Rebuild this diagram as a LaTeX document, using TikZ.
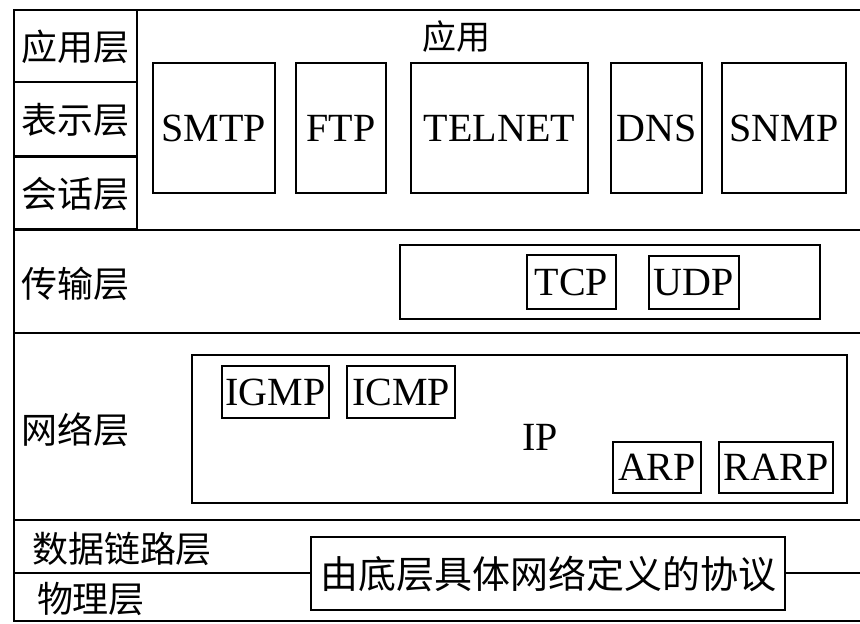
\documentclass[tikz,border=0pt]{standalone}
\usepackage{fontspec}
\setmainfont{Liberation Serif}
\newfontfamily\cjk{Noto Sans CJK SC}
\begin{document}
\begin{tikzpicture}[x=1pt,y=-1pt,line width=1.8pt,
  proto/.style={draw,inner sep=0pt,font=\fontsize{40}{40}\selectfont},
  frame/.style={draw,inner sep=0pt},
  layer/.style={inner sep=0pt,font=\cjk\fontsize{36}{36}\selectfont}]
\useasboundingbox (0,0) rectangle (860,624);
% outer lines
\coordinate (tl) at (14,10);
\coordinate (tr) at (860,10);
\coordinate (bl) at (14,621);
\coordinate (br) at (860,621);
\draw (tr) -- (tl) -- (bl) -- (br);
\coordinate (l1) at (14,230); \coordinate (r1) at (860,230);
\coordinate (l2) at (14,333); \coordinate (r2) at (860,333);
\coordinate (l3) at (14,520); \coordinate (r3) at (860,520);
\draw (l1) -- (r1);
\draw (l2) -- (r2);
\draw (l3) -- (r3);
% upper layers
\node[frame,minimum width=123pt,minimum height=72pt] (app) at (75.5,46) {};
\node[frame,minimum width=123pt,minimum height=74pt] (pres) at (75.5,119) {};
\node[frame,minimum width=123pt,minimum height=72pt] (sess) at (75.5,193) {};
\node[layer] (appl) at (75,47) {应用层};
\node[layer] (presl) at (75,120) {表示层};
\node[layer] (sessl) at (75,194) {会话层};
\node[inner sep=0pt,font=\cjk\fontsize{34}{34}\selectfont] (apptitle) at (456,37) {应用};
\node[proto,minimum width=122pt,minimum height=130pt] (smtp) at (214,128) {SMTP};
\node[proto,minimum width=90pt,minimum height=130pt] (ftp) at (341,128) {FTP};
\node[proto,minimum width=177pt,minimum height=130pt] (telnet) at (499.5,128) {TELNET};
\node[proto,minimum width=91pt,minimum height=130pt] (dns) at (656.5,128) {DNS};
\node[proto,minimum width=124pt,minimum height=130pt] (snmp) at (784,128) {SNMP};
% transport
\node[layer] (transl) at (75,284) {传输层};
\node[frame,minimum width=420pt,minimum height=74pt] (tbox) at (610,282) {};
\node[proto,minimum width=89pt,minimum height=54pt] (tcp) at (571.5,282) {TCP};
\node[proto,minimum width=90pt,minimum height=53pt] (udp) at (694,282.5) {UDP};
% network
\node[layer] (netl) at (75,430) {网络层};
\node[frame,minimum width=655pt,minimum height=148pt] (ipbox) at (519.5,429) {};
\node[proto,minimum width=107pt,minimum height=52pt] (igmp) at (275.5,392) {IGMP};
\node[proto,minimum width=108pt,minimum height=52pt] (icmp) at (401,392) {ICMP};
\node[inner sep=0pt,font=\fontsize{40}{40}\selectfont] (ip) at (540,437) {IP};
\node[proto,minimum width=88pt,minimum height=51pt] (arp) at (657,467.5) {ARP};
\node[proto,minimum width=114pt,minimum height=51pt] (rarp) at (776,467.5) {RARP};
% link / physical
\node[layer] (linkl) at (122,549) {数据链路层};
\node[layer] (phyl) at (91,599) {物理层};
\node[frame,minimum width=474pt,minimum height=73pt,font=\cjk\fontsize{38}{38}\selectfont] (net) at (548,573.5) {由底层具体网络定义的协议};
\coordinate (ml) at (14,573);
\coordinate (mr) at (860,573);
\draw (ml) -- (net.west |- ml);
\draw (net.east |- mr) -- (mr);
\end{tikzpicture}
\end{document}
